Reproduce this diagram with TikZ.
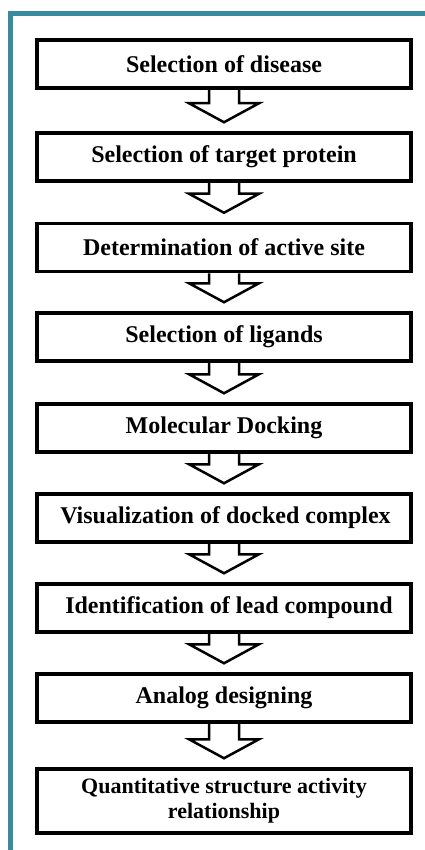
\documentclass[tikz,border=0pt]{standalone}
\usepackage{fontspec}
\setmainfont{Liberation Serif}
\usepackage{tikz}
\usetikzlibrary{calc}
\definecolor{frameteal}{RGB}{58,138,162}
\tikzset{
	stepbox/.style={draw=black, line width=3.5pt, minimum width=374pt, minimum height=48pt, inner sep=0pt, align=center, font=\fontsize{24}{28}\selectfont\bfseries},
	arrowline/.style={draw=black, line width=2.5pt, line join=miter}
}
\def\blockarrow(#1)(#2){\draw[arrowline] ($(#1.south)+(-15,0)$) -- ($(#2.north)+(-15,28)$) -- ($(#2.north)+(-35,28)$) -- ($(#2.north)+(0,9)$) -- ($(#2.north)+(35,28)$) -- ($(#2.north)+(15,28)$) -- ($(#1.south)+(15,0)$);}

\begin{document}
\begin{tikzpicture}[x=1pt,y=1pt]
			%%%%% START %%%%%
			
			\useasboundingbox (0, 0) rectangle (425, -850);
			
			\draw[line width=5pt, color=frameteal] (10.5, -850) -- (10.5, -13.5) -- (425, -13.5);
			
			\node[stepbox] (disease) at (224, -64) {Selection of disease};
			\node[stepbox] (target) at (224, -157) {Selection of target protein};
			\node[stepbox] (site) at (224, -247.5) {Determination of active site};
			\node[stepbox] (ligands) at (224, -337) {Selection of ligands};
			\node[stepbox] (docking) at (224, -428) {Molecular Docking};
			\node[stepbox] (visual) at (224, -518) {\hspace*{3pt}Visualization of docked complex};
			\node[stepbox] (lead) at (224, -608) {\hspace*{10pt}Identification of lead compound};
			\node[stepbox] (analog) at (224, -698) {Analog designing};
			\node[stepbox, minimum height=64pt, font=\fontsize{22}{25}\selectfont\bfseries] (qsar) at (224, -801) {Quantitative structure activity\\relationship};
			
			\blockarrow(disease)(target)
			\blockarrow(target)(site)
			\blockarrow(site)(ligands)
			\blockarrow(ligands)(docking)
			\blockarrow(docking)(visual)
			\blockarrow(visual)(lead)
			\blockarrow(lead)(analog)
			\blockarrow(analog)(qsar)
			
			%%%%% END %%%%%
\end{tikzpicture}
\end{document}
